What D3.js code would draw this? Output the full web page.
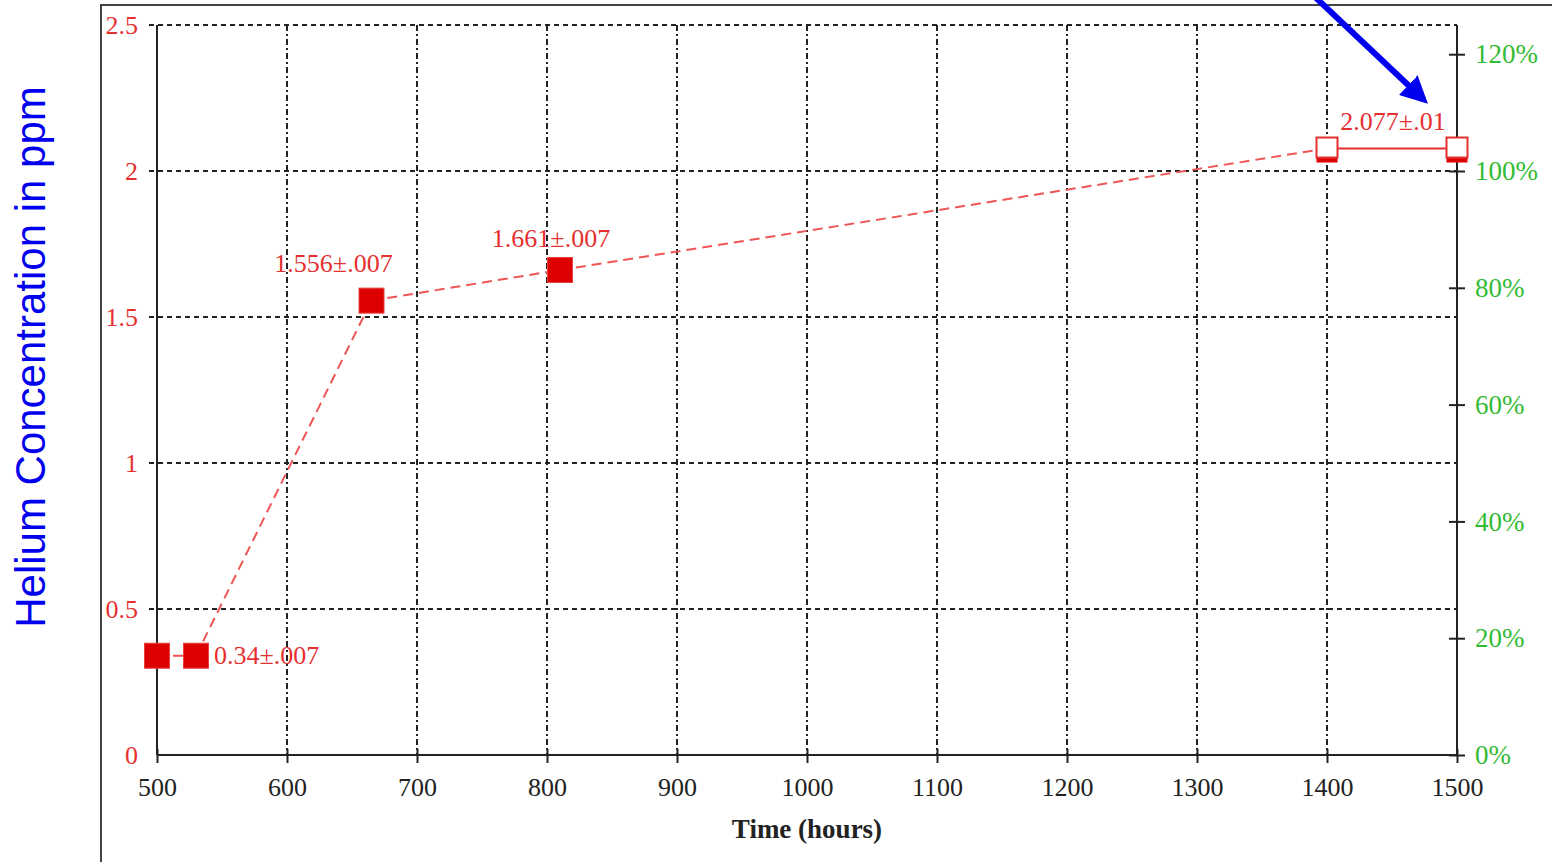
<!DOCTYPE html>
<html><head><meta charset="utf-8">
<script src="https://cdn.jsdelivr.net/npm/d3@7"></script>
<style>html,body{margin:0;padding:0;background:#fff;}svg{display:block;}</style>
</head><body>
<svg id="c" width="1552" height="862"></svg>
<script>
const timeHours = [500, 530, 665, 810, 1400, 1500];
const heliumPpm = [0.34, 0.34, 1.556, 1.661, 2.077, 2.077];
const pointFilled = [true, true, true, true, false, false];
const pointLabels = [
  {i: 1, text: "0.34±.007"},
  {i: 2, text: "1.556±.007"},
  {i: 3, text: "1.661±.007"},
  {i: 5, text: "2.077±.01"}
];
const xTicks = [500, 600, 700, 800, 900, 1000, 1100, 1200, 1300, 1400, 1500];
const yTicks = [0, 0.5, 1, 1.5, 2, 2.5];
const pctTicks = [0, 20, 40, 60, 80, 100, 120];
const xTitle = "Time (hours)";
const yTitle = "Helium Concentration in ppm";

const svg = d3.select("#c");
const L = 157, R = 1457, T = 25, B = 755;
const x = d3.scaleLinear().domain([500, 1500]).range([L, R]);
const y = d3.scaleLinear().domain([0, 2.5]).range([B, T]);
const yPct = d3.scaleLinear().domain([0, 125]).range([B, T]);
const serif = "'Liberation Serif', 'Times New Roman', serif";

// outer frame
svg.append("path").attr("d", "M101,862 L101,5 L1552,5").attr("fill", "none")
  .attr("stroke", "#444").attr("stroke-width", 2);

// grid
const g = svg.append("g");
yTicks.filter(v => v > 0).forEach(v => {
  g.append("line").attr("x1", L - 8).attr("x2", R).attr("y1", y(v)).attr("y2", y(v))
    .attr("stroke", "#222").attr("stroke-width", 2).attr("stroke-dasharray", "5,4");
});
xTicks.filter(v => v > 500 && v < 1500).forEach(v => {
  g.append("line").attr("x1", x(v)).attr("x2", x(v)).attr("y1", T).attr("y2", B)
    .attr("stroke", "#222").attr("stroke-width", 2).attr("stroke-dasharray", "6,3,2,3");
});

// axes
const xAxis = svg.append("g").attr("transform", `translate(0,${B})`)
  .call(d3.axisBottom(x).tickValues(xTicks).tickSize(8).tickPadding(15).tickFormat(d3.format("d")));
xAxis.select(".domain").attr("stroke", "#222").attr("stroke-width", 2).attr("d", `M${L},0H${R}`);
xAxis.selectAll(".tick line").attr("stroke", "#222").attr("stroke-width", 2).attr("y1", -6);
xAxis.selectAll(".tick text").attr("font-family", serif).attr("font-size", 26).attr("fill", "#222");

const yAxis = svg.append("g").attr("transform", `translate(${L},0)`)
  .call(d3.axisLeft(y).tickValues(yTicks).tickSize(0).tickPadding(19).tickFormat(d => d));
yAxis.select(".domain").attr("stroke", "#222").attr("stroke-width", 2).attr("d", `M0,${B}V${T}`);
yAxis.selectAll(".tick text").attr("font-family", serif).attr("font-size", 26).attr("fill", "#e53030");

const rAxis = svg.append("g").attr("transform", `translate(${R},0)`)
  .call(d3.axisRight(yPct).tickValues(pctTicks).tickSize(8).tickPadding(10).tickFormat(d => d + "%"));
rAxis.select(".domain").attr("stroke", "#222").attr("stroke-width", 2).attr("d", `M0,${B}V${T}`);
rAxis.selectAll(".tick line").attr("stroke", "#222").attr("stroke-width", 2).attr("x1", -8);
rAxis.selectAll(".tick text").attr("font-family", serif).attr("font-size", 27).attr("fill", "#33bb33");

// titles
svg.append("text").attr("x", 807).attr("y", 838).attr("text-anchor", "middle")
  .attr("font-family", serif).attr("font-weight", "bold").attr("font-size", 27).attr("fill", "#222").text(xTitle);
svg.append("text").attr("transform", "translate(45,357) rotate(-90)").attr("text-anchor", "middle")
  .attr("font-family", "'Liberation Sans', Arial, sans-serif").attr("font-size", 42).attr("fill", "#0000ee").text(yTitle);

// data line
const pts = timeHours.map((t, i) => ({t, v: heliumPpm[i], f: pointFilled[i]}));
for (let i = 0; i < pts.length - 1; i++) {
  const a = pts[i], b = pts[i + 1];
  const solid = !a.f && !b.f;
  svg.append("line").attr("x1", x(a.t)).attr("y1", y(a.v)).attr("x2", x(b.t)).attr("y2", y(b.v))
    .attr("stroke", solid ? "#e53030" : "#ee5555").attr("stroke-width", 2)
    .attr("stroke-dasharray", solid ? null : "10,6");
}

// markers
pts.forEach(p => {
  if (p.f) {
    svg.append("rect").attr("x", x(p.t) - 12.5).attr("y", y(p.v) - 12.5).attr("width", 25).attr("height", 25)
      .attr("fill", "#dd0000").attr("stroke", "#e84040").attr("stroke-width", 1);
  } else {
    svg.append("rect").attr("x", x(p.t) - 10.5).attr("y", y(p.v) - 11).attr("width", 21).attr("height", 25)
      .attr("fill", "#dd0000");
    svg.append("rect").attr("x", x(p.t) - 10.5).attr("y", y(p.v) - 11).attr("width", 21).attr("height", 20)
      .attr("fill", "#fff").attr("stroke", "#e53030").attr("stroke-width", 2);
  }
});

// labels
const lab = svg.append("g").attr("font-family", serif).attr("font-size", 26).attr("fill", "#e53030");
pointLabels.forEach(d => {
  const p = pts[d.i];
  let tx, ty, anchor;
  if (d.i === 1) { tx = x(p.t) + 18; ty = y(p.v) + 8; anchor = "start"; }
  else if (d.i === 5) { tx = x(p.t) - 64; ty = y(p.v) - 19; anchor = "middle"; }
  else if (d.i === 3) { tx = x(p.t) - 9; ty = y(p.v) - 23; anchor = "middle"; }
  else { tx = x(p.t) - 38; ty = y(p.v) - 29; anchor = "middle"; }
  lab.append("text").attr("x", tx).attr("y", ty).attr("text-anchor", anchor).text(d.text);
});

// blue arrow
svg.append("defs").append("marker").attr("id", "ah").attr("viewBox", "0 0 10 10")
  .attr("refX", 8).attr("refY", 5).attr("markerWidth", 4.5).attr("markerHeight", 4.5)
  .attr("markerUnits", "strokeWidth").attr("orient", "auto")
  .append("path").attr("d", "M0,0 L10,5 L0,10 z").attr("fill", "#0000ee");
svg.append("line").attr("x1", 1314).attr("y1", -4).attr("x2", 1424).attr("y2", 100)
  .attr("stroke", "#0000ee").attr("stroke-width", 6).attr("marker-end", "url(#ah)");
</script>
</body></html>
